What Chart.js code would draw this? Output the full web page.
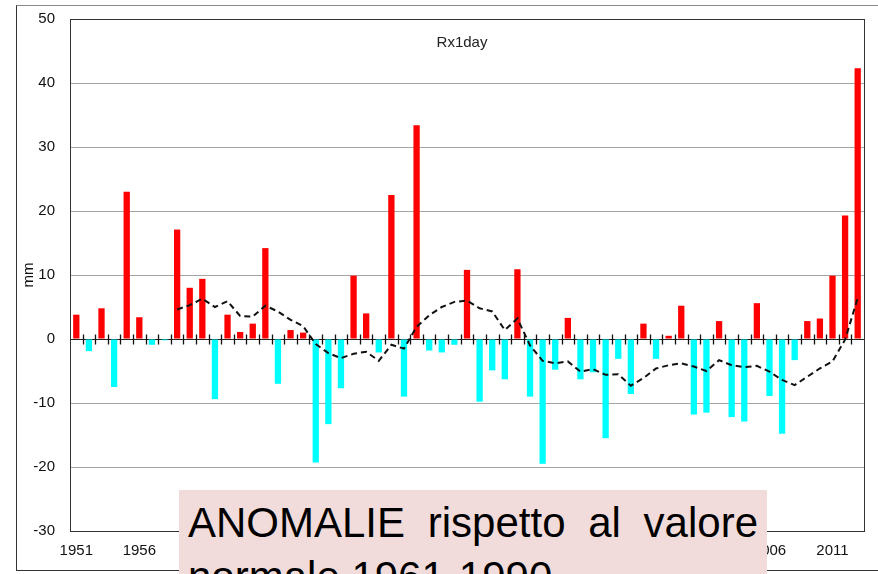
<!DOCTYPE html>
<html lang="it">

<head>
    <meta charset="UTF-8">
    <title>Rx1day - anomalie</title>
    <script src="https://cdn.jsdelivr.net/npm/chart.js@4.4.1/dist/chart.umd.min.js"></script>
    <style>
        body {
            margin: 0;
            width: 878px;
            height: 574px;
            overflow: hidden;
            background: #fff;
            position: relative;
            font-family: "Liberation Sans", Arial, sans-serif;
        }

        #frame {
            position: absolute;
            left: 16px;
            top: 5px;
            width: 900px;
            height: 564px;
            border-top: 1px solid #8a8a8a;
            border-left: 1px solid #333;
            border-bottom: 1px solid #333;
        }

        #chartCanvas {
            position: absolute;
            left: 0;
            top: 0;
        }

        #note {
            position: absolute;
            left: 179px;
            top: 490px;
            width: 570px;
            height: 120px;
            padding: 6px 9px 0 9px;
            background: #f2dcdb;
            font-size: 42px;
            line-height: 54px;
            text-align: justify;
            color: #000;
        }
    </style>
</head>

<body>
    <div id="frame"></div>
    <canvas id="chartCanvas" width="878" height="574"></canvas>
    <div id="note">ANOMALIE rispetto al valore normale 1961-1990</div>

    <script>
        // anni 1951-2013
        const firstYear = 1951;
        const lastYear = 2013;
        let years = [];
        for (let y = firstYear; y <= lastYear; y++) years.push(String(y));

        // anomalia Rx1day (mm)
        const anomaly = [
            3.8, -1.9, 4.8, -7.5, 23.0, 3.4, -0.9, -0.2, 17.1, 8.0,
            9.4, -9.4, 3.8, 1.1, 2.4, 14.2, -7.0, 1.4, 1.0, -19.3,
            -13.3, -7.7, 9.9, 4.0, -2.1, 22.5, -9.0, 33.4, -1.8, -2.1,
            -0.9, 10.8, -9.8, -4.9, -6.3, 10.9, -9.0, -19.5, -4.8, 3.3,
            -6.3, -5.2, -15.5, -3.1, -8.6, 2.4, -3.1, 0.5, 5.2, -11.8,
            -11.5, 2.8, -12.2, -12.9, 5.6, -8.9, -14.8, -3.3, 2.8, 3.2,
            9.9, 19.3, 42.3
        ];

        // media mobile (tratteggiata), parte dal 1959
        const smooth = [
            null, null, null, null, null, null, null, null, 4.6, 5.3,
            6.3, 5.0, 5.9, 3.6, 3.5, 5.2, 4.3, 3.0, 2.0, -0.8,
            -2.2, -3.0, -2.3, -2.0, -3.4, -0.9, -1.5, 1.9, 3.7, 5.0,
            5.8, 6.0, 4.8, 4.3, 1.4, 3.2, -1.0, -3.4, -3.8, -3.5,
            -5.1, -4.7, -5.6, -5.5, -7.3, -6.1, -4.6, -4.1, -3.8, -4.3,
            -5.0, -3.3, -4.1, -4.4, -4.2, -5.1, -6.4, -7.2, -5.9, -4.6,
            -3.5, -0.1, 6.4
        ];

        const yMin = -30;
        const yMax = 50;
        const yStep = 10;
        const labelEvery = 5;

        const barColors = anomaly.map(v => v >= 0 ? "#ff0000" : "#00ffff");

        // cornice del grafico, titolo interno, tacche sullo zero
        const framePlugin = {
            id: "framePlugin",
            afterDraw(chart) {
                const ctx = chart.ctx;
                const a = chart.chartArea;
                const x = chart.scales.x;
                const y = chart.scales.y;
                ctx.save();
                ctx.strokeStyle = "#333";
                ctx.lineWidth = 1;
                ctx.strokeRect(Math.round(a.left) + 0.5, Math.round(a.top) + 0.5,
                    Math.round(a.right - a.left), Math.round(a.bottom - a.top));

                const y0 = Math.round(y.getPixelForValue(0)) + 0.5;
                ctx.strokeStyle = "#111";
                ctx.lineWidth = 1.3;
                ctx.beginPath();
                for (let i = 1; i < years.length; i++) {
                    const px = Math.round((x.getPixelForValue(i - 1) + x.getPixelForValue(i)) / 2) + 0.5;
                    ctx.moveTo(px, y0 - 5);
                    ctx.lineTo(px, y0 + 5);
                }
                ctx.stroke();

                ctx.fillStyle = "#222";
                ctx.font = "15px 'Liberation Sans', Arial, sans-serif";
                ctx.textAlign = "center";
                ctx.textBaseline = "middle";
                ctx.fillText("Rx1day", (a.left + a.right) / 2 - 5, a.top + 24);
                ctx.restore();
            }
        };

        let ctx = document.getElementById("chartCanvas").getContext("2d");
        let rxChart = new Chart(ctx, {
            type: "bar",
            data: {
                labels: years,
                datasets: [{
                    type: "line",
                    data: smooth,
                    borderColor: "#111",
                    borderWidth: 2,
                    borderDash: [6, 4],
                    pointRadius: 0,
                    tension: 0,
                    fill: false,
                    spanGaps: false,
                    order: 0
                }, {
                    type: "bar",
                    data: anomaly,
                    backgroundColor: barColors,
                    borderWidth: 0,
                    barPercentage: 0.5,
                    categoryPercentage: 1.0,
                    order: 1
                }]
            },
            options: {
                responsive: false,
                animation: false,
                layout: {
                    padding: { left: 16, right: 14, top: 19, bottom: 0 }
                },
                plugins: {
                    legend: { display: false },
                    tooltip: { enabled: false },
                    title: { display: false }
                },
                scales: {
                    x: {
                        offset: true,
                        grid: { display: false, drawTicks: false },
                        border: { display: false },
                        ticks: {
                            autoSkip: false,
                            maxRotation: 0,
                            padding: 11,
                            color: "#111",
                            font: { family: "'Liberation Sans', Arial, sans-serif", size: 15 },
                            callback: function(value, index) {
                                return index % labelEvery === 0 ? this.getLabelForValue(value) : "";
                            }
                        },
                        afterFit(scale) {
                            scale.height = 43;
                            scale.paddingLeft = 0;
                            scale.paddingRight = 0;
                        }
                    },
                    y: {
                        min: yMin,
                        max: yMax,
                        ticks: {
                            stepSize: yStep,
                            padding: 15,
                            color: "#111",
                            font: { family: "'Liberation Sans', Arial, sans-serif", size: 15 }
                        },
                        grid: {
                            drawTicks: false,
                            color: (c) => c.tick && c.tick.value === 0 ? "#222" : "#a6a6a6",
                            lineWidth: 1
                        },
                        border: { display: false },
                        title: {
                            display: true,
                            text: "mm",
                            color: "#111",
                            padding: { top: 4, bottom: 0 },
                            font: { family: "'Liberation Sans', Arial, sans-serif", size: 15 }
                        },
                        afterFit(scale) {
                            scale.width = 54;
                            scale.paddingTop = 0;
                            scale.paddingBottom = 0;
                        }
                    }
                }
            },
            plugins: [framePlugin]
        });
    </script>
</body>

</html>
